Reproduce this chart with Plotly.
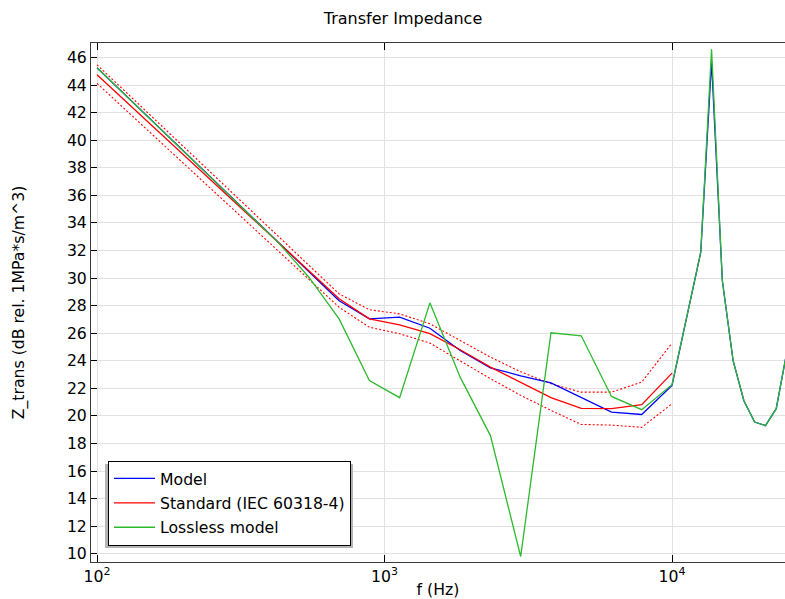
import plotly.graph_objects as go

# Frequencies (Hz)
freq_lo = [100, 127.4, 162.4, 206.9, 263.7, 336.0, 428.1, 545.6, 695.2, 885.9,
           1128.8, 1438.4, 1833.0, 2335.7, 2976.4, 3792.7, 4832.9, 6158.5, 7847.6, 10000]
freq_hf = [12589, 13725, 14962, 16312, 17783, 19387, 21135, 23041, 25119]
freq_all = freq_lo + freq_hf

# Z_trans (dB rel. 1 MPa*s/m^3)
model = [45.25, 43.14, 41.04, 38.93, 36.83, 34.72, 32.62, 30.52, 28.35, 27.04,
         27.16, 26.36, 24.74, 23.49, 22.91, 22.40, 21.36, 20.27, 20.10, 22.21,
         31.87, 45.7, 29.82, 24.0, 21.1, 19.55, 19.29, 20.52, 24.7]
lossless = [45.25, 43.14, 41.04, 38.93, 36.83, 34.72, 32.55, 30.06, 27.04, 22.57,
            21.32, 28.20, 22.81, 18.57, 9.8, 26.03, 25.81, 21.41, 20.45, 22.26,
            31.87, 46.6, 29.82, 24.0, 21.1, 19.55, 19.29, 20.52, 24.7]
standard = [44.75, 42.72, 40.69, 38.65, 36.62, 34.59, 32.56, 30.53, 28.50, 27.04,
            26.61, 25.96, 24.80, 23.54, 22.42, 21.32, 20.54, 20.52, 20.81, 23.10]
standard_upper = [45.47, 43.39, 41.31, 39.23, 37.16, 35.08, 33.00, 30.92, 28.85, 27.70,
                  27.40, 26.68, 25.47, 24.26, 23.20, 22.33, 21.72, 21.72, 22.45, 25.28]
standard_lower = [44.12, 42.10, 40.07, 38.04, 36.01, 33.98, 31.95, 29.92, 27.88, 26.43,
                  25.96, 25.28, 24.00, 22.70, 21.49, 20.40, 19.38, 19.33, 19.17, 20.88]

x_tickvals = [100, 1000, 10000]
x_ticktext = ["10<sup>2</sup>", "10<sup>3</sup>", "10<sup>4</sup>"]

FONT = "DejaVu Sans"
FS = 15.7
BLUE = "rgb(0,0,255)"
RED = "rgb(255,0,0)"
GREEN = "rgb(45,185,45)"

fig = go.Figure()
fig.add_trace(go.Scatter(x=freq_lo, y=standard_upper, mode="lines", showlegend=False,
                         line=dict(color=RED, width=1.1, dash="2px,2px")))
fig.add_trace(go.Scatter(x=freq_lo, y=standard_lower, mode="lines", showlegend=False,
                         line=dict(color=RED, width=1.1, dash="2px,2px")))
fig.add_trace(go.Scatter(x=freq_all, y=model, mode="lines", name="Model", legendgroup="a",
                         line=dict(color=BLUE, width=1.3)))
fig.add_trace(go.Scatter(x=freq_lo, y=standard, mode="lines", name="Standard (IEC 60318-4)",
                         legendgroup="b", line=dict(color=RED, width=1.3)))
fig.add_trace(go.Scatter(x=freq_all, y=lossless, mode="lines", name="Lossless model",
                         legendgroup="c", line=dict(color=GREEN, width=1.3)))

L, R, T, B = 91, 0, 43, 37
W, H = 785, 599
pw, ph = W - L - R, H - T - B

def px_x(px):
    return (px - L) / pw

def px_y(py):
    return (H - B - py) / ph

fig.update_layout(
    width=W, height=H,
    margin=dict(l=L, r=R, t=T, b=B, pad=0),
    paper_bgcolor="white", plot_bgcolor="white",
    font=dict(family=FONT, size=FS, color="black"),
    title=dict(text="Transfer Impedance", x=403 / W, xref="container", xanchor="center",
               y=1 - 18 / H, yref="container", yanchor="middle",
               font=dict(family=FONT, size=16, color="black")),
    xaxis=dict(type="log", range=[1.9791, 4.393], tickvals=x_tickvals, ticktext=x_ticktext,
               showgrid=True, gridcolor="rgb(225,225,225)", gridwidth=1,
               ticks="inside", ticklen=7, tickcolor="black", tickwidth=1,
               showline=True, linecolor="rgb(60,60,60)", linewidth=1, mirror="ticks",
               zeroline=False, tickfont=dict(size=FS),
               title=dict(text="f (Hz)", standoff=0, font=dict(size=FS))),
    yaxis=dict(range=[9.4, 47.05], tick0=0, dtick=2,
               showgrid=True, gridcolor="rgb(225,225,225)", gridwidth=1,
               ticks="inside", ticklen=6, tickcolor="black", tickwidth=1,
               showline=True, linecolor="rgb(60,60,60)", linewidth=1, mirror=False,
               zeroline=False, tickfont=dict(size=FS),
               title=dict(text="Z_trans (dB rel. 1MPa*s/m^3)", standoff=38, font=dict(size=FS))),
    legend=dict(x=px_x(108), y=px_y(460.7), xanchor="left", yanchor="top",
                bgcolor="white", bordercolor="black", borderwidth=1,
                font=dict(family=FONT, size=FS, color="black"),
                tracegroupgap=1, itemwidth=41),
    shapes=[dict(type="rect", xref="paper", yref="paper", layer="above",
                 x0=px_x(105), x1=px_x(353), y0=px_y(548), y1=px_y(464),
                 fillcolor="rgb(180,180,180)", line=dict(width=0))],
)

fig.write_html("out.html", config={"displayModeBar": False},
               post_script="document.body.style.margin='0';")
